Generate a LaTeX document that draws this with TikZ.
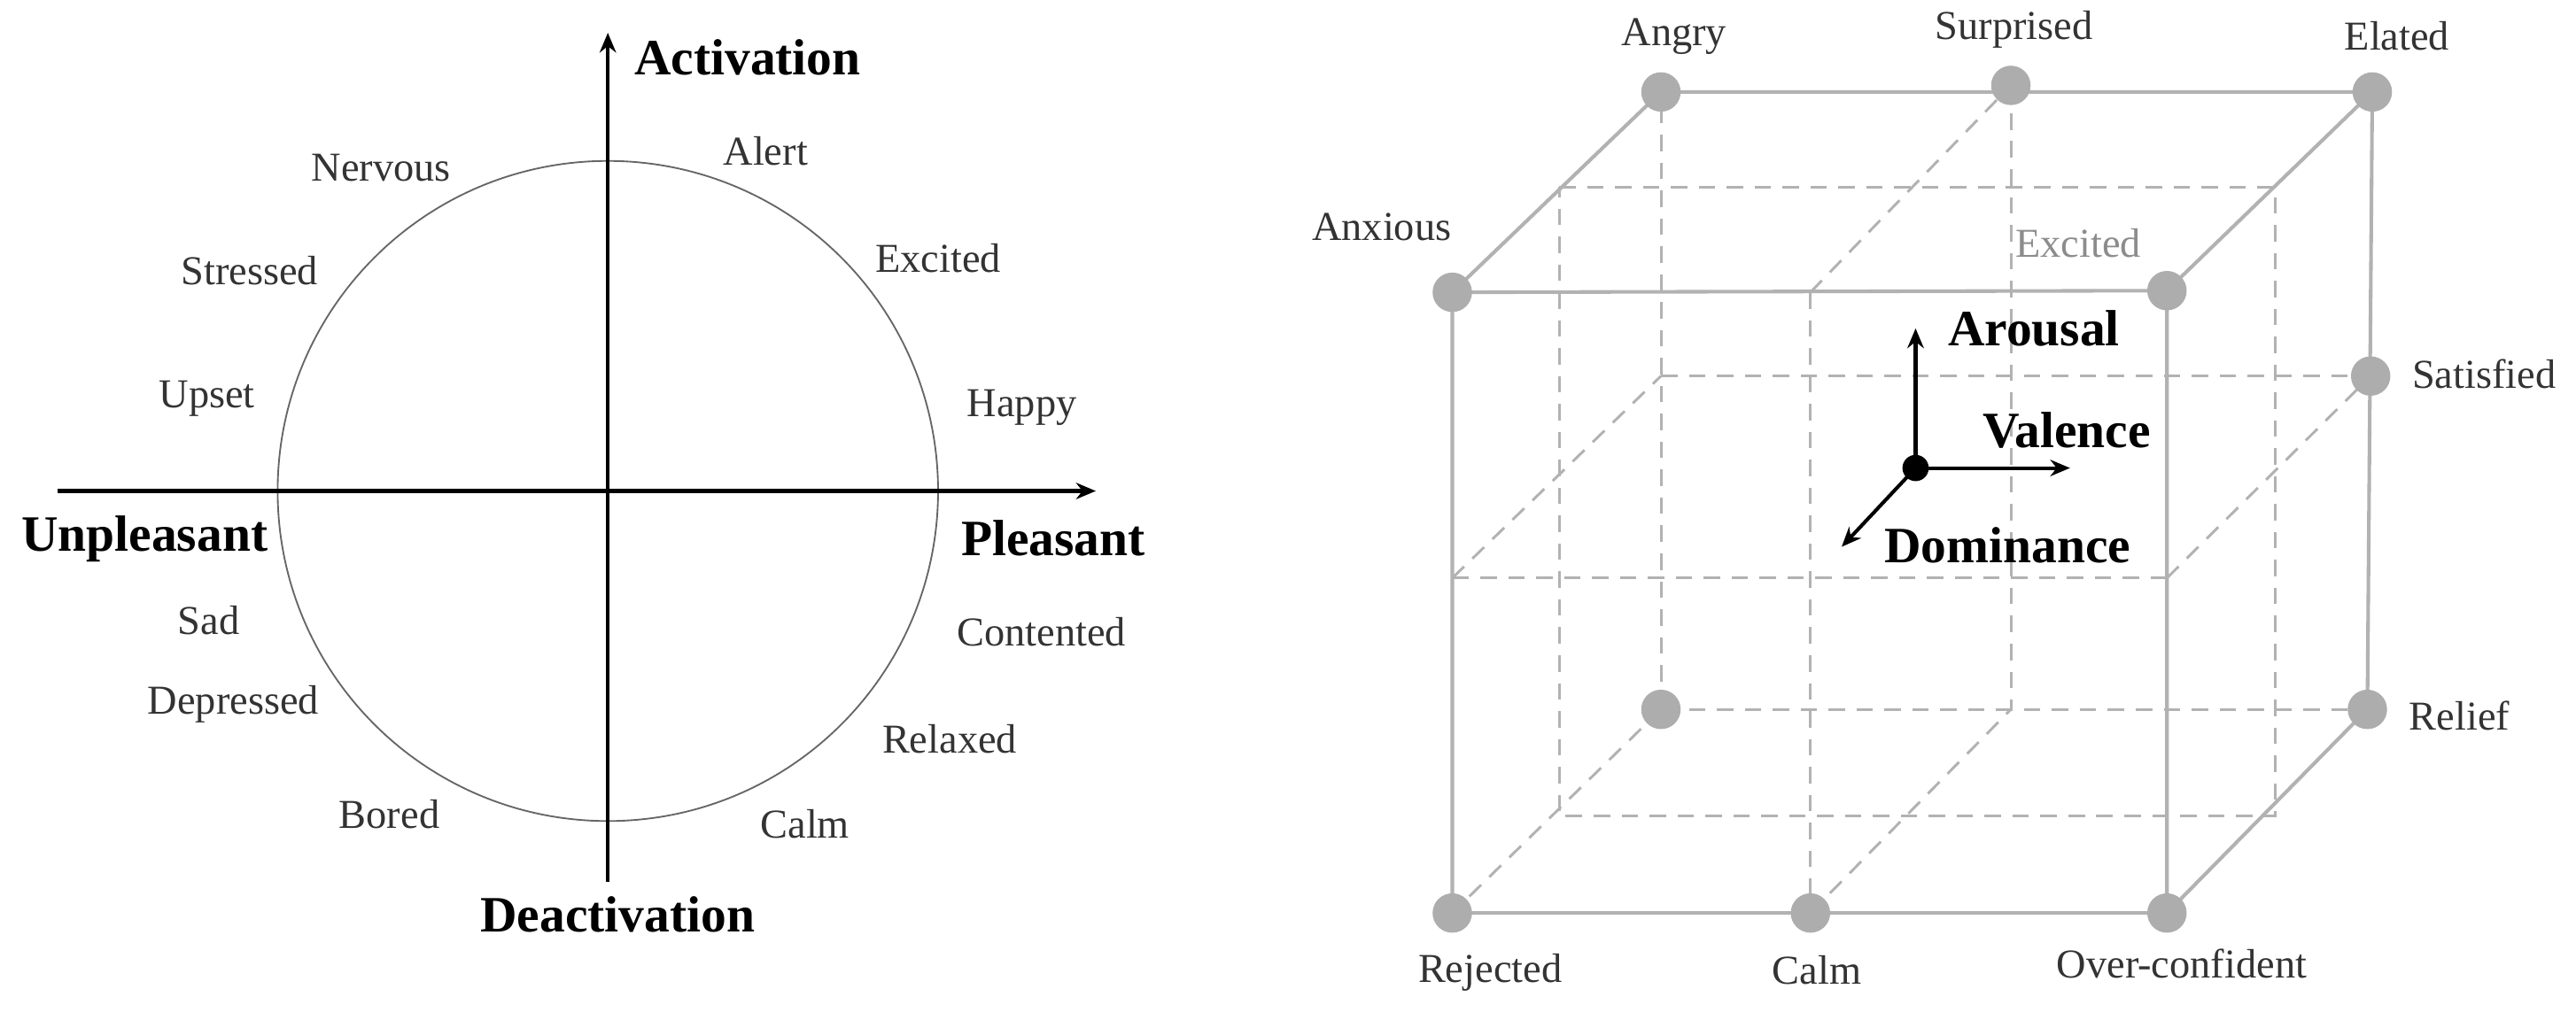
\documentclass[tikz,border=0pt]{standalone}
\usepackage{fontspec}
\setmainfont{Liberation Serif}
\usetikzlibrary{arrows.meta}
\begin{document}
\begin{tikzpicture}[x=0.5pt,y=-0.5pt,
 lbl/.style={text=black!80,font=\fontsize{12.5}{14}\selectfont},
 big/.style={font=\fontsize{15.5}{17}\selectfont\bfseries},
 ax/.style={line width=1.2pt,-{Stealth[length=6pt,width=5pt]}},
 edge/.style={draw=black!30,line width=1.1pt},
 dsh/.style={draw=black!30,line width=0.8pt,dash pattern=on 5pt off 3.5pt},
 dot/.style={circle,fill=black!32,minimum size=12pt,inner sep=0pt}]
\useasboundingbox (0,0) rectangle (1568,621);
% ---- circumplex ----
\node[circle,draw=black!60,line width=0.5pt,minimum size=201pt,inner sep=0pt] (circ) at (370,299) {};
\coordinate (vb) at (370,537); \coordinate (vt) at (370,20);
\coordinate (hl) at (35,299); \coordinate (hr) at (667,299);
\draw[ax] (vb) -- (vt);
\draw[ax] (hl) -- (hr);
\node[big] (act) at (455,35) {Activation};
\node[big] (deact) at (376,557) {Deactivation};
\node[big] (unp) at (88,328) {Unpleasant};
\node[big] (pls) at (641,328) {Pleasant};
\node[lbl] (l1) at (466,92) {Alert};
\node[lbl] (l2) at (571,157) {Excited};
\node[lbl] (l3) at (622,248) {Happy};
\node[lbl] (l4) at (634,385) {Contented};
\node[lbl] (l5) at (578,450) {Relaxed};
\node[lbl] (l6) at (490,502) {Calm};
\node[lbl] (l7) at (232,102) {Nervous};
\node[lbl] (l8) at (152,165) {Stressed};
\node[lbl] (l9) at (126,243) {Upset};
\node[lbl] (l10) at (127,378) {Sad};
\node[lbl] (l11) at (142,429) {Depressed};
\node[lbl] (l12) at (237,496) {Bored};
% ---- cube ----
\coordinate (ftl) at (884,178); \coordinate (ftr) at (1319,177);
\coordinate (fbl) at (884,556); \coordinate (fbr) at (1319,556);
\coordinate (btl) at (1011,56); \coordinate (btr) at (1444,56);
\coordinate (bbl) at (1011,432); \coordinate (bbr) at (1441,432);
\coordinate (ftm) at (1102,178); \coordinate (fbm) at (1102,556);
\coordinate (btm) at (1224,52); \coordinate (bbm) at (1224,432);
\coordinate (fml) at (884,352); \coordinate (fmr) at (1319,352);
\coordinate (bml) at (1011,229); \coordinate (bmr) at (1443,229);
\coordinate (m1) at (949,114); \coordinate (m2) at (1385,114);
\coordinate (m3) at (1385,497); \coordinate (m4) at (949,497);
% dashed
\draw[dsh] (bbl) -- (btl);
\draw[dsh] (bbl) -- (bbr);
\draw[dsh] (bbl) -- (fbl);
\draw[dsh] (ftm) -- (fbm);
\draw[dsh] (btm) -- (bbm);
\draw[dsh] (ftm) -- (btm);
\draw[dsh] (fbm) -- (bbm);
\draw[dsh] (fml) -- (fmr);
\draw[dsh] (bml) -- (bmr);
\draw[dsh] (fml) -- (bml);
\draw[dsh] (fmr) -- (bmr);
\draw[dsh] (m1) -- (m2) -- (m3) -- (m4) -- cycle;
% solid
\draw[edge] (ftl) -- (ftr) -- (fbr) -- (fbl) -- cycle;
\draw[edge] (ftl) -- (btl) -- (btr) -- (bbr) -- (fbr);
\draw[edge] (ftr) -- (btr);
% dots
\node[dot] (dAng) at (btl) {};
\node[dot] (dSur) at (btm) {};
\node[dot] (dEla) at (btr) {};
\node[dot] (dAnx) at (ftl) {};
\node[dot] (dExc) at (ftr) {};
\node[dot] (dSat) at (bmr) {};
\node[dot] (dBbl) at (bbl) {};
\node[dot] (dRel) at (bbr) {};
\node[dot] (dRej) at (fbl) {};
\node[dot] (dCalm) at (fbm) {};
\node[dot] (dOver) at (fbr) {};
\node[lbl] (tAng) at (1019,22) {Angry};
\node[lbl] (tSur) at (1226,18) {Surprised};
\node[lbl] (tEla) at (1459,22) {Elated};
\node[lbl] (tAnx) at (841,138) {Anxious};
\node[lbl,text=black!45] (tExc) at (1265,148) {Excited};
\node[lbl] (tSat) at (1512,228) {Satisfied};
\node[lbl] (tRel) at (1497,436) {Relief};
\node[lbl] (tRej) at (907,592) {Rejected};
\node[lbl] (tCalm) at (1106,591) {Calm};
\node[lbl] (tOver) at (1328,587) {Over-confident};
% axes
\node[circle,fill=black,minimum size=8pt,inner sep=0pt] (o) at (1166,285) {};
\coordinate (au) at (1166,200); \coordinate (ar) at (1260,285); \coordinate (ad) at (1121,333);
\draw[line width=1.1pt,-{Stealth[length=6pt,width=5pt]}] (o.center) -- (au);
\draw[line width=1.1pt,-{Stealth[length=6pt,width=5pt]}] (o.center) -- (ar);
\draw[line width=1.1pt,-{Stealth[length=6pt,width=5pt]}] (o.center) -- (ad);
\node[big] (tAro) at (1238,200) {Arousal};
\node[big] (tVal) at (1258,262) {Valence};
\node[big] (tDom) at (1222,332) {Dominance};
\end{tikzpicture}
\end{document}
